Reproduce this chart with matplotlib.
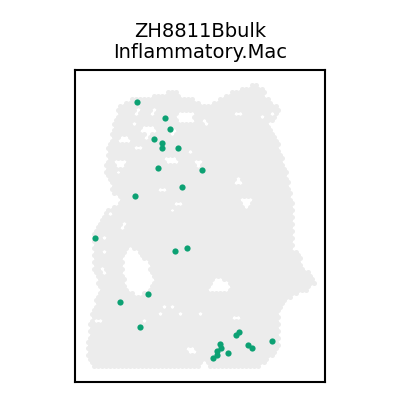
import numpy as np
import matplotlib
matplotlib.use("Agg")
import matplotlib.pyplot as plt
from matplotlib.path import Path

# Titulo
muestra = "ZH8811Bbulk"
tipo_celula = "Inflammatory.Mac"

# Contorno del tejido (coordenadas espaciales)
contorno_x = [118, 128, 140, 152, 163, 170, 176, 182, 190, 198, 205, 214, 225, 240, 256, 262,
              266, 272, 278, 278, 269, 275, 278, 282, 287, 289, 292, 293, 298, 304, 312, 315,
              306, 284, 279, 279, 271, 261, 210, 203, 198, 95, 88, 87, 90, 93, 99, 93,
              92, 93, 100, 105, 120, 112, 107, 105, 108, 113, 116]
contorno_y = [106, 100, 97, 96, 94, 89, 90, 96, 98, 102, 106, 101, 95, 89, 83, 87,
              97, 103, 107, 114, 124, 132, 142, 158, 168, 185, 200, 247, 254, 267, 277, 283,
              290, 300, 310, 345, 357, 366, 366, 360, 368, 368, 356, 342, 322, 307, 289, 268,
              247, 231, 223, 211, 202, 190, 178, 167, 147, 125, 115]

# Huecos grandes dentro del tejido
huecos = [
    ([125, 132, 138, 142, 147, 149, 153, 153, 148, 140, 128, 125, 123],
     [250, 247, 252, 259, 262, 268, 275, 283, 290, 295, 292, 280, 266]),
    ([215, 233, 224, 210, 210], [276, 285, 291, 291, 283]),
    ([238, 246, 255, 246], [201, 195, 201, 207]),
    ([141, 150, 156, 150, 142], [126, 124, 130, 135, 133]),
    ([177, 192, 192, 177], [112, 112, 121, 121]),
    ([164, 177, 177, 166], [157, 157, 164, 164]),
    ([115, 125, 125, 115], [160, 160, 167, 167]),
    ([120, 128, 128, 120], [137, 137, 142, 142]),
]

# Spots vacios sueltos
vacio_x = [137, 153, 133, 238, 261, 273, 205, 146, 138, 190, 198, 238, 162, 173, 178, 172,
           111, 118, 123, 103, 103, 103, 144, 164, 172, 180, 160, 200, 236, 97, 100, 190, 193]
vacio_y = [112, 112, 123, 113, 117, 114, 122, 139, 148, 150, 163, 181, 189, 132, 203, 210,
           214, 173, 226, 238, 252, 270, 320, 308, 308, 313, 315, 315, 317, 320, 322, 350, 352]

# Spots positivos (Inflammatory.Mac)
pos_x = [137, 165, 170, 154, 162, 162, 178, 158, 202, 182, 135, 95, 175, 187, 120, 148, 140,
         236, 239, 220, 217, 213, 217, 221, 228, 248, 252, 272]
pos_y = [102, 118, 129, 139, 143, 148, 148, 168, 170, 187, 196, 238, 251, 248, 302, 294, 327,
         335, 332, 344, 351, 358, 355, 348, 353, 345, 348, 341]

# Rejilla hexagonal de spots
dx = 4.0
dy = 3.46
filas = np.arange(0, 90)
cols = np.arange(0, 62)
R, C = np.meshgrid(filas, cols, indexing="ij")
gx = 86 + C * dx + (R % 2) * dx / 2
gy = 82 + R * dy
pts = np.column_stack([gx.ravel(), gy.ravel()])

dentro = Path(np.column_stack([contorno_x, contorno_y])).contains_points(pts)
for hx, hy in huecos:
    dentro &= ~Path(np.column_stack([hx, hy])).contains_points(pts)
for vx, vy in zip(vacio_x, vacio_y):
    dentro &= np.hypot(pts[:, 0] - vx, pts[:, 1] - vy) > 2.6
tejido = pts[dentro]

fig = plt.figure(figsize=(4, 4), dpi=100)
ax = fig.add_axes([0.1875, 0.045, 0.625, 0.78])
ax.scatter(tejido[:, 0], tejido[:, 1], s=13, c="#ececec", linewidths=0)
ax.scatter(pos_x, pos_y, s=20, c="#0ca173", linewidths=0)
ax.set_xlim(75, 325)
ax.set_ylim(382, 70)
ax.set_xticks([])
ax.set_yticks([])
for lado in ax.spines.values():
    lado.set_linewidth(1.5)
ax.set_title(muestra + "\n" + tipo_celula, fontsize=14, pad=9, linespacing=1.1)

fig.savefig("out.png", dpi=100)
